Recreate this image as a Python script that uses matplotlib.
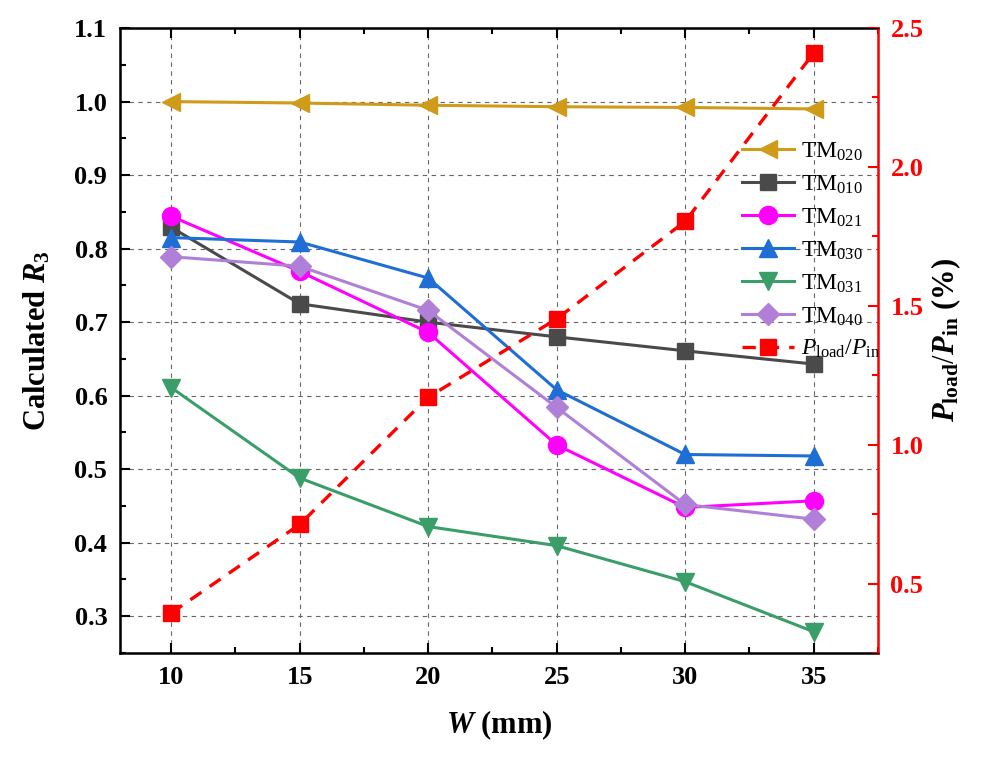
import matplotlib
matplotlib.use('Agg')
import matplotlib.pyplot as plt
from matplotlib.ticker import MultipleLocator, AutoMinorLocator

# data
widths = [10, 15, 20, 25, 30, 35]
tm020 = [1.000, 0.998, 0.995, 0.993, 0.992, 0.990]
tm010 = [0.829, 0.725, 0.700, 0.680, 0.661, 0.643]
tm021 = [0.844, 0.769, 0.686, 0.533, 0.448, 0.457]
tm030 = [0.815, 0.809, 0.760, 0.608, 0.520, 0.518]
tm031 = [0.611, 0.488, 0.422, 0.396, 0.347, 0.279]
tm040 = [0.789, 0.776, 0.716, 0.584, 0.452, 0.432]
p_ratio = [0.394, 0.713, 1.171, 1.453, 1.804, 2.410]

plt.rcParams['font.family'] = 'Liberation Serif'
plt.rcParams['mathtext.fontset'] = 'custom'
plt.rcParams['mathtext.rm'] = 'Liberation Serif'
plt.rcParams['mathtext.it'] = 'Liberation Serif:italic'
plt.rcParams['mathtext.bf'] = 'Liberation Serif:bold'
try:
    plt.rcParams['mathtext.bfit'] = 'Liberation Serif:italic:bold'
except KeyError:
    pass

fig = plt.figure(figsize=(9.82, 7.58), dpi=100)
ax = fig.add_axes([0.122, 0.1385, 0.772, 0.8245])
ax2 = ax.twinx()

lw = 2.2
ms = 13
series = [
    (tm020, '<', '#D19B1A', r'TM$_{\mathrm{020}}$'),
    (tm010, 's', '#4A4A4A', r'TM$_{\mathrm{010}}$'),
    (tm021, 'o', '#FF00FF', r'TM$_{\mathrm{021}}$'),
    (tm030, '^', '#1F6ED6', r'TM$_{\mathrm{030}}$'),
    (tm031, 'v', '#3A9E68', r'TM$_{\mathrm{031}}$'),
    (tm040, 'D', '#B07FD8', r'TM$_{\mathrm{040}}$'),
]
handles = []
for vals, mk, col, lab in series:
    size = ms - 2 if mk in ('s', 'D') else ms
    h, = ax.plot(widths, vals, marker=mk, color=col, lw=lw, ms=size,
                 mec=col, label=lab, zorder=3)
    handles.append(h)

hp, = ax2.plot(widths, p_ratio, marker='s', color='#FF0000', lw=2.4, ms=11,
               ls=(0, (4, 3)), label=r'$P_{\mathrm{load}}/P_{\mathrm{in}}$', zorder=3)
handles.append(hp)

# left axis
ax.set_xlim(8, 37.5)
ax.set_ylim(0.25, 1.1)
ax.xaxis.set_major_locator(MultipleLocator(5))
ax.xaxis.set_minor_locator(AutoMinorLocator(2))
ax.yaxis.set_major_locator(MultipleLocator(0.1))
ax.yaxis.set_minor_locator(AutoMinorLocator(2))
ax.tick_params(which='both', direction='in', top=True, right=False, width=1.5)
ax.tick_params(which='major', length=7, labelsize=19, pad=9)
ax.tick_params(which='minor', length=4)
ax.grid(True, which='major', ls=(0, (4, 4)), color='#666666', lw=0.8)
for lbl in ax.get_xticklabels() + ax.get_yticklabels():
    lbl.set_fontweight('bold')
ax.set_xlabel(r'$\mathbfit{W}$ (mm)', fontsize=22, fontweight='bold', labelpad=14)
ax.set_ylabel(r'Calculated $\mathbfit{R}_{\mathbf{3}}$', fontsize=22,
              fontweight='bold', labelpad=16)
for s in ['left', 'bottom', 'top']:
    ax.spines[s].set_linewidth(1.8)

# right axis
ax2.set_ylim(0.25, 2.5)
ax2.yaxis.set_major_locator(MultipleLocator(0.5))
ax2.yaxis.set_minor_locator(AutoMinorLocator(2))
ax2.tick_params(which='both', direction='in', colors='#FF0000', width=1.5)
ax2.tick_params(which='major', length=7, labelsize=19, pad=9)
ax2.tick_params(which='minor', length=4)
for lbl in ax2.get_yticklabels():
    lbl.set_fontweight('bold')
ax2.spines['right'].set_color('#FF0000')
ax2.spines['right'].set_linewidth(1.8)
ax2.set_ylabel(r'$\mathbfit{P}_{\mathbf{load}}/\mathbfit{P}_{\mathbf{in}}$ (%)',
               fontsize=22, fontweight='bold', labelpad=4)

ax2.legend(handles=handles, loc='upper right', bbox_to_anchor=(1.015, 0.835),
           frameon=False, fontsize=17, handlelength=2.2, handletextpad=0.3,
           labelspacing=0.45, borderaxespad=0)

fig.savefig('out.png', dpi=100)
